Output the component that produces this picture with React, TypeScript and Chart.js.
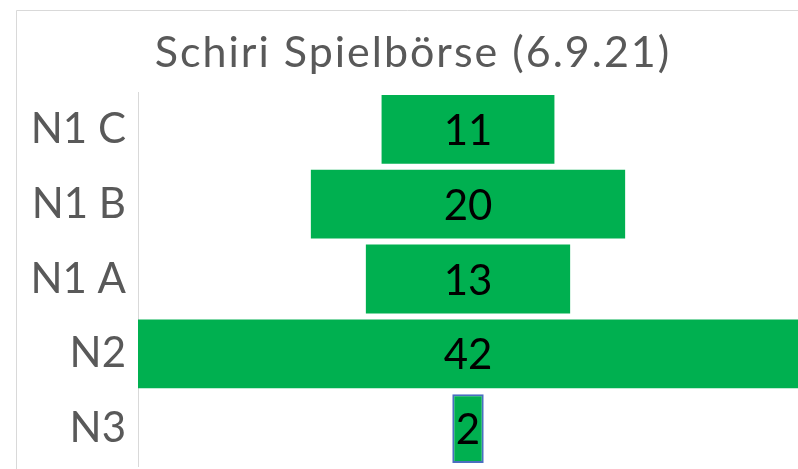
import React, { useEffect, useRef } from "react";
import { Chart, registerables } from "chart.js";

Chart.register(...registerables);

const categories = ["N1 C", "N1 B", "N1 A", "N2", "N3"];
const values = [11, 20, 13, 42, 2];
const titleText = "Schiri Spielbörse (6.9.21)";
const FONT = "Lato, 'Open Sans', sans-serif";

export default function App() {
  const ref = useRef<HTMLCanvasElement>(null);

  useEffect(() => {
    document.body.style.margin = "0";
    const maxV = Math.max(...values);
    const half = maxV / 2;

    const framePlugin = {
      id: "frame",
      beforeDraw(chart: any) {
        const ctx = chart.ctx;
        ctx.save();
        ctx.fillStyle = "#ffffff";
        ctx.fillRect(0, 0, chart.width, chart.height);
        ctx.strokeStyle = "#d9d9d9";
        ctx.lineWidth = 1;
        ctx.beginPath();
        ctx.moveTo(16.5, chart.height + 2);
        ctx.lineTo(16.5, 10.5);
        ctx.lineTo(chart.width + 2, 10.5);
        ctx.stroke();
        // title
        ctx.fillStyle = "#595959";
        ctx.font = `43px ${FONT}`;
        (ctx as any).letterSpacing = "2px";
        ctx.textAlign = "center";
        ctx.textBaseline = "alphabetic";
        ctx.fillText(titleText, 413, 67);
        (ctx as any).letterSpacing = "0px";
        ctx.restore();
      },
      afterDatasetsDraw(chart: any) {
        const ctx = chart.ctx;
        const meta = chart.getDatasetMeta(0);
        ctx.save();
        ctx.fillStyle = "#000000";
        ctx.font = `42px ${FONT}`;
        ctx.textAlign = "center";
        ctx.textBaseline = "middle";
        meta.data.forEach((bar: any, i: number) => {
          const p = bar.getProps(["x", "y", "base"], true);
          const cx = (p.x + p.base) / 2;
          ctx.fillText(String(values[i]), cx, p.y + 2);
        });
        ctx.restore();
      },
    };

    const chart = new Chart(ref.current!, {
      type: "bar",
      data: {
        labels: categories,
        datasets: [
          {
            data: values.map((v) => [-v / 2, v / 2]) as any,
            backgroundColor: "#00b050",
            borderColor: values.map((_, i) => (i === values.length - 1 ? "#4a6fc0" : "#00b050")),
            borderWidth: values.map((_, i) => (i === values.length - 1 ? 2 : 0)),
            borderSkipped: false,
            categoryPercentage: 1,
            barPercentage: 0.92,
          },
        ],
      },
      options: {
        indexAxis: "y",
        animation: false,
        responsive: false,
        maintainAspectRatio: false,
        layout: { padding: { top: 92, bottom: 3, left: 0, right: 0 } },
        plugins: {
          legend: { display: false },
          title: { display: false },
          tooltip: { enabled: false },
        },
        scales: {
          x: {
            display: false,
            min: -half,
            max: half,
          },
          y: {
            grid: { display: false, drawTicks: false },
            border: { display: true, color: "#d9d9d9", width: 1 },
            ticks: {
              color: "#595959",
              font: { family: FONT, size: 42 },
              padding: 12,
            },
            afterFit(scale: any) {
              scale.width = 138;
              scale.paddingTop = 0;
              scale.paddingBottom = 0;
            },
          },
        },
      },
      plugins: [framePlugin],
    });
    return () => chart.destroy();
  }, []);

  return (
    <div style={{ width: 798, height: 469, position: "relative" }}>
      <canvas ref={ref} width={798} height={469} style={{ display: "block" }} />
    </div>
  );
}
